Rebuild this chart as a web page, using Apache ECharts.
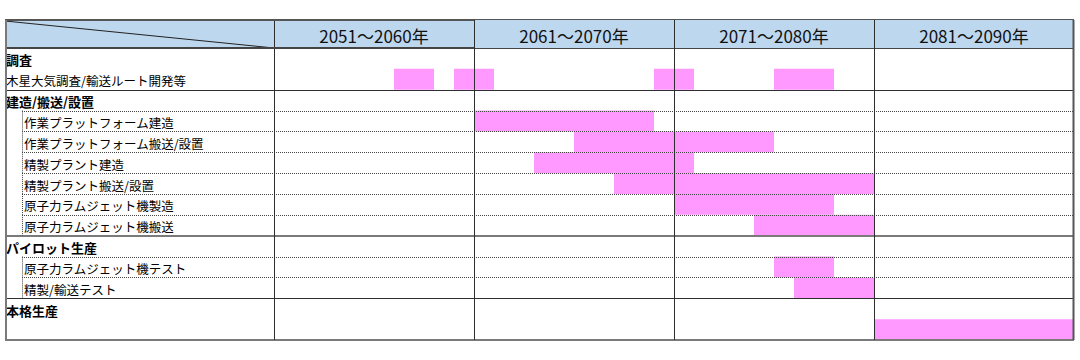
<!DOCTYPE html>
<html><head><meta charset="utf-8">
<script src="https://cdn.jsdelivr.net/npm/echarts@6/dist/echarts.min.js"></script>
<style>html,body{margin:0;padding:0;background:#fff}#c{width:1080px;height:360px}</style>
</head><body><div id="c"></div>
<script>
// ---- data ----
const rowLabels = ['調査','木星大気調査/輸送ルート開発等','建造/搬送/設置','作業プラットフォーム建造','作業プラットフォーム搬送/設置','精製プラント建造','精製プラント搬送/設置','原子力ラムジェット機製造','原子力ラムジェット機搬送','パイロット生産','原子力ラムジェット機テスト','精製/輸送テスト','本格生産',''];
const rowKinds = ['group','plain','group','sub','sub','sub','sub','sub','sub','group','sub','sub','group','blank'];
const rowBorders = ['none','solid','dot','dot','dot','dot','dot','dot','heavy','dot','dot','solid','none','heavy'];
const periodLabels = ['2051～2060年','2061～2070年','2071～2080年','2081～2090年'];
const periodStarts = [2051,2061,2071,2081];
const taskRows       = [1,1,1,1,3,4,5,6,7,8,10,11,13];
const taskStartYears = [2057,2060,2070,2076,2061,2066,2064,2068,2071,2075,2076,2077,2081];
const taskEndYears   = [2058,2061,2071,2078,2069,2075,2071,2080,2078,2080,2078,2080,2090];

// ---- layout / style ----
const TABLE_LEFT = 5, GRID_LEFT = 274, GRID_RIGHT = 6, GRID_TOP = 48, GRID_BOTTOM = 20;
const HEADER_H = 28, INDENT = 17;
const HEADER_FILL = '#BDD7EE', BAR_FILL = '#FF99FF';
const FRAME = '#7a7a7a', DARK = '#2e2e2e', DOT = '#444444';
const JP = '"Noto Sans CJK JP","Noto Sans",sans-serif';

function px(v){ return Math.round(v) + 0.5; }

function renderHeader(params, api){
  const i = params.dataIndex, cs = params.coordSys;
  const x0 = api.coord([periodStarts[i]-1, 0])[0];
  const x1 = api.coord([periodStarts[i]+9, 0])[0];
  const top = cs.y - HEADER_H, bottom = cs.y + cs.height, right = cs.x + cs.width;
  const ch = [
    {type:'rect', shape:{x:x0, y:top, width:x1-x0, height:HEADER_H}, style:{fill:HEADER_FILL}},
    {type:'text', style:{text:periodLabels[i], x:(x0+x1)/2, y:top+HEADER_H/2+1, align:'center', verticalAlign:'middle', textAlign:'center', textVerticalAlign:'middle', font:'17px '+JP, fill:'#111'}},
    {type:'line', shape:{x1:px(x0), y1:top, x2:px(x0), y2:bottom}, style:{stroke:DARK, lineWidth:1}}
  ];
  if (i === periodStarts.length-1) {
    ch.push({type:'line', shape:{x1:px(x1)-1, y1:top, x2:px(x1)-1, y2:bottom}, style:{stroke:'#555', lineWidth:2}});
  }
  if (i === 0) {
    ch.push({type:'rect', shape:{x:TABLE_LEFT, y:top, width:x0-TABLE_LEFT, height:HEADER_H}, style:{fill:HEADER_FILL}});
    ch.push({type:'line', shape:{x1:TABLE_LEFT, y1:top+1, x2:x0, y2:cs.y}, style:{stroke:'#222', lineWidth:1}});
    ch.push({type:'line', shape:{x1:TABLE_LEFT, y1:top, x2:right, y2:top}, style:{stroke:'#555', lineWidth:2}});
    ch.push({type:'line', shape:{x1:TABLE_LEFT, y1:cs.y, x2:right, y2:cs.y}, style:{stroke:'#444', lineWidth:2}});
    ch.push({type:'line', shape:{x1:TABLE_LEFT+1, y1:top, x2:TABLE_LEFT+1, y2:bottom}, style:{stroke:FRAME, lineWidth:2}});
  }
  return {type:'group', children:ch};
}

function renderRowLine(params, api){
  const i = params.dataIndex, cs = params.coordSys;
  const c = api.coord([periodStarts[0]-1, i]);
  const h = api.size([0, 1])[1];
  const yTop = c[1] - h/2, yBot = c[1] + h/2;
  const right = cs.x + cs.width;
  const ch = [];
  const kind = rowBorders[i];
  if (kind === 'dot') {
    ch.push({type:'line', shape:{x1:TABLE_LEFT+INDENT, y1:px(yBot), x2:right, y2:px(yBot)}, style:{stroke:DOT, lineWidth:1, lineDash:[1,1]}});
  } else if (kind === 'solid') {
    ch.push({type:'line', shape:{x1:TABLE_LEFT, y1:px(yBot), x2:right, y2:px(yBot)}, style:{stroke:DARK, lineWidth:1}});
  } else if (kind === 'heavy') {
    ch.push({type:'line', shape:{x1:TABLE_LEFT, y1:Math.round(yBot), x2:right, y2:Math.round(yBot)}, style:{stroke:FRAME, lineWidth:2}});
  }
  if (rowKinds[i] === 'sub') {
    ch.push({type:'line', shape:{x1:TABLE_LEFT+INDENT+0.5, y1:yTop, x2:TABLE_LEFT+INDENT+0.5, y2:yBot}, style:{stroke:DOT, lineWidth:1, lineDash:[1,1]}});
  }
  return {type:'group', children:ch};
}

function renderTask(params, api){
  const s = api.coord([api.value(0), api.value(2)]);
  const e = api.coord([api.value(1), api.value(2)]);
  const h = api.size([0, 1])[1];
  return {type:'rect', shape:{x:s[0], y:s[1]-h/2, width:e[0]-s[0], height:h}, style:{fill:BAR_FILL}};
}

const chart = echarts.init(document.getElementById('c'), null, {renderer:'svg'});
chart.setOption({
  animation:false,
  backgroundColor:'#fff',
  grid:{left:GRID_LEFT, right:GRID_RIGHT, top:GRID_TOP, bottom:GRID_BOTTOM},
  xAxis:{type:'value', min:2050, max:2090, interval:10,
    axisLabel:{show:false}, axisTick:{show:false}, axisLine:{show:false}, splitLine:{show:false}},
  yAxis:{type:'category', data:rowLabels, inverse:true,
    axisLine:{show:false}, axisTick:{show:false}, splitLine:{show:false},
    axisLabel:{interval:0, align:'left', margin:GRID_LEFT-TABLE_LEFT-1, color:'#000', fontFamily:JP, fontSize:12.5,
      formatter:function(v, i){
        if (!v) return '';
        const k = rowKinds[i];
        return k==='group' ? '{g|'+v+'}' : (k==='sub' ? '{s|'+v+'}' : '{p|'+v+'}');
      },
      rich:{
        g:{fontWeight:'bold', fontSize:13, fontFamily:JP, color:'#000', padding:[3,0,0,0]},
        s:{fontSize:12.5, fontFamily:JP, color:'#000', padding:[3,0,0,INDENT+1]},
        p:{fontSize:12.5, fontFamily:JP, color:'#000', padding:[3,0,0,0]}
      }}},
  series:[
    {type:'custom', name:'tasks', z:2, silent:true, renderItem:renderTask, encode:{x:[0,1], y:2},
      data:taskRows.map((r,k)=>[taskStartYears[k]-1, taskEndYears[k], r])},
    {type:'custom', name:'rows', z:5, silent:true, renderItem:renderRowLine, encode:{x:0, y:1},
      data:rowBorders.map((b,i)=>[periodStarts[0]-1, i])},
    {type:'custom', name:'header', z:6, silent:true, clip:false, renderItem:renderHeader, encode:{x:0, y:1},
      data:periodStarts.map(s=>[s-1, 0])}
  ]
});
</script></body></html>
